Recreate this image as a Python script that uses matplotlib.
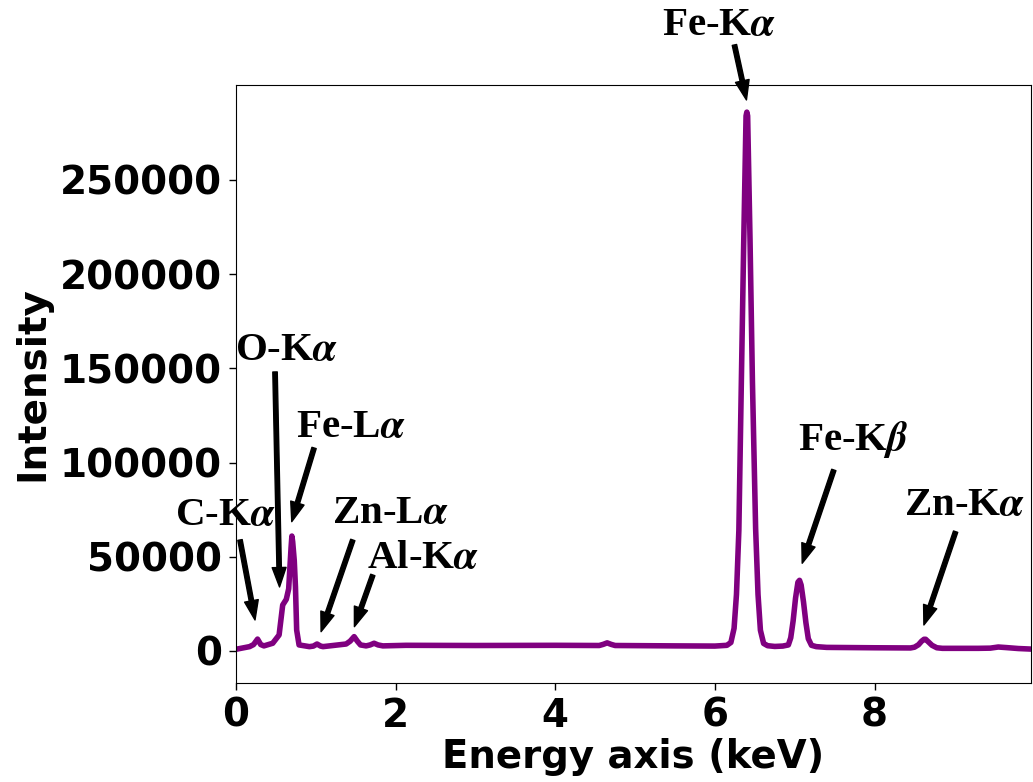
import matplotlib
matplotlib.use("Agg")
import matplotlib.pyplot as plt

# ---- data ----
energy_kev = [
    0.00, 0.17, 0.22, 0.27, 0.31, 0.35, 0.46, 0.54, 0.585, 0.63, 0.66, 0.69, 0.70, 0.71,
    0.73, 0.745, 0.76, 0.79, 0.92, 0.97, 1.015, 1.06, 1.09, 1.38, 1.43, 1.48, 1.52,
    1.56, 1.63, 1.68, 1.73, 1.78, 1.84, 2.13, 3.00, 4.00, 4.55, 4.60, 4.65, 4.70,
    4.75, 5.50, 6.00, 6.15, 6.20, 6.24, 6.27, 6.30, 6.33, 6.36, 6.39, 6.40, 6.41,
    6.44, 6.47, 6.51, 6.54, 6.57, 6.61, 6.66, 6.75, 6.85, 6.92, 6.95, 6.98, 7.01,
    7.04, 7.06, 7.08, 7.11, 7.14, 7.17, 7.21, 7.27, 7.40, 8.00, 8.45, 8.50, 8.55,
    8.59, 8.62, 8.64, 8.67, 8.72, 8.78, 8.85, 9.30, 9.45, 9.55, 9.65, 9.80, 9.96,
]
intensity = [
    900, 2300, 3400, 6300, 3400, 2700, 4100, 8500, 24400, 27400, 33000, 55000, 61000, 58000,
    48000, 34000, 11100, 3200, 2300, 2600, 3700, 2600, 2300, 3700, 5200, 7600, 5200,
    3200, 2700, 3200, 4100, 3200, 2700, 3000, 2900, 3000, 2900, 3500, 4300, 3500,
    2900, 2700, 2600, 3000, 4500, 12000, 30000, 64000, 140000, 215000, 284000, 286000, 284000,
    218000, 143000, 65000, 30000, 11000, 4000, 2800, 2400, 2600, 3200, 7000, 16000, 28000,
    36500, 37500, 35000, 26000, 15000, 6500, 3000, 2300, 1900, 1700, 1600, 2000, 3300,
    5200, 6200, 6200, 5000, 3000, 1700, 1400, 1400, 1500, 2100, 1800, 1300, 1000,
]

x_ticks = [0, 2, 4, 6, 8]
y_ticks = [0, 50000, 100000, 150000, 200000, 250000]

peak_labels = [
    r"Fe-K$\boldsymbol{\alpha}$",
    r"O-K$\boldsymbol{\alpha}$",
    r"Fe-L$\boldsymbol{\alpha}$",
    r"C-K$\boldsymbol{\alpha}$",
    r"Zn-L$\boldsymbol{\alpha}$",
    r"Al-K$\boldsymbol{\alpha}$",
    r"Fe-K$\boldsymbol{\beta}$",
    r"Zn-K$\boldsymbol{\alpha}$",
]

plt.rcParams["mathtext.fontset"] = "stix"

fig = plt.figure(figsize=(10.33, 7.82), dpi=100)
ax = fig.add_axes([236 / 1033, 1 - 683 / 782, (1031 - 236) / 1033, (683 - 85) / 782])

ax.plot(energy_kev, intensity, color="#800080", linewidth=4.0,
        solid_joinstyle="round", solid_capstyle="round")

ax.set_xlim(0, 9.96)
ax.set_ylim(-17000, 300400)
ax.set_xticks(x_ticks)
ax.set_yticks(y_ticks)
ax.set_xticklabels([str(v) for v in x_ticks])
ax.set_yticklabels([str(v) for v in y_ticks])
for lab in ax.get_xticklabels() + ax.get_yticklabels():
    lab.set_fontweight("bold")
    lab.set_fontsize(28)
    lab.set_family("DejaVu Sans")
ax.tick_params(length=5, width=1.0, pad=5)
ax.set_xlabel("Energy axis (keV)", fontsize=27.8, fontweight="bold", labelpad=2)
ax.set_ylabel("Intensity", fontsize=28, fontweight="bold", labelpad=6)

def px2x(px):
    return (px - 236) / 79.75

def px2y(py):
    return (651 - py) * 530.8

# (text center x, baseline y, arrow start, arrow tip) in reference pixels
placements = [
    (719, 35, (734, 45), (746, 100)),
    (286.5, 360, (275, 372), (279.5, 587)),
    (351, 437, (314, 448), (291.7, 521.7)),
    (225, 525, (240, 540), (255, 620)),
    (390, 523, (352.7, 540), (321, 631.7)),
    (423, 568, (372.7, 575), (354.3, 626.7)),
    (853, 450, (833.3, 470), (801.7, 563.3)),
    (964, 515, (955, 531.7), (923.3, 625)),
]

for label, (tx, ty, (sx, sy), (ex, ey)) in zip(peak_labels, placements):
    ax.text(px2x(tx), px2y(ty), label, ha="center", va="baseline",
            fontsize=29.5, fontweight="bold", family="Liberation Serif",
            clip_on=False)
    ax.annotate("", xy=(px2x(ex), px2y(ey)), xytext=(px2x(sx), px2y(sy)),
                annotation_clip=False,
                arrowprops=dict(facecolor="black", edgecolor="black",
                                width=3.2, headwidth=10, headlength=14, shrink=0))

fig.savefig("out.png", dpi=100)
